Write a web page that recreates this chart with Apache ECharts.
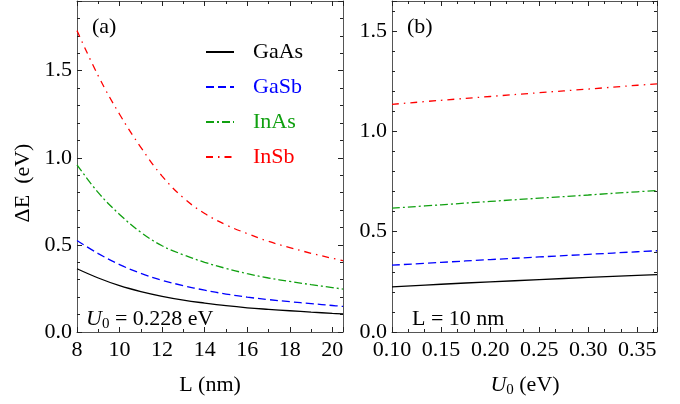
<!DOCTYPE html>
<html>
<head>
<meta charset="utf-8">
<script src="https://cdn.jsdelivr.net/npm/echarts@6.0.0/dist/echarts.min.js"></script>
<style>
  html, body { margin: 0; padding: 0; background: #fff; }
  #chart { width: 680px; height: 404px; }
</style>
</head>
<body>
<div id="chart"></div>
<script>
// panel (a): energy vs well width, U0 = 0.228 eV
var lenNm = [8, 9, 10, 11, 12, 13, 14, 15, 16, 17, 18, 19, 20, 20.5]
var gaasL = [0.363, 0.31, 0.266, 0.232, 0.205, 0.183, 0.166, 0.151, 0.139, 0.13, 0.122, 0.114, 0.107, 0.104]
var gasbL = [0.525, 0.45, 0.387, 0.337, 0.297, 0.266, 0.24, 0.218, 0.2, 0.186, 0.174, 0.163, 0.152, 0.147]
var inasL = [0.96, 0.80, 0.675, 0.572, 0.495, 0.443, 0.40, 0.365, 0.335, 0.31, 0.29, 0.272, 0.255, 0.246]
var insbL = [1.73, 1.47, 1.25, 1.06, 0.895, 0.77, 0.68, 0.615, 0.565, 0.52, 0.485, 0.452, 0.423, 0.41]

// panel (b): energy vs barrier height, L = 10 nm
var u0Ev = [0.10, 0.15, 0.20, 0.25, 0.30, 0.35, 0.37]
var gaasU = [0.225, 0.238, 0.250, 0.261, 0.272, 0.282, 0.286]
var gasbU = [0.333, 0.347, 0.361, 0.374, 0.387, 0.400, 0.405]
var inasU = [0.617, 0.634, 0.651, 0.667, 0.683, 0.699, 0.705]
var insbU = [1.135, 1.155, 1.174, 1.193, 1.211, 1.230, 1.237]

var names = ['GaAs', 'GaSb', 'InAs', 'InSb']
var colors = ['#000000', '#0000ff', '#10a010', '#ff0000']
var dashes = ['solid', [8, 4], [8, 3, 2, 3], [7, 5, 1.5, 5]]

var FONT = 'Liberation Serif'

function pairs (xs, ys) {
  return xs.map(function (x, i) { return [x, ys[i]] })
}

function xAxisOf (grid, pos, min, max, interval, minorSplit, label) {
  return {
    type: 'value',
    gridIndex: grid,
    position: pos,
    min: min,
    max: max,
    interval: interval,
    axisLine: { show: true, onZero: false, lineStyle: { color: '#555', width: 1 } },
    axisTick: { show: true, inside: true, length: 5, lineStyle: { color: '#222' } },
    minorTick: { show: true, splitNumber: minorSplit, length: 3, lineStyle: { color: '#222' } },
    splitLine: { show: false },
    axisLabel: {
      show: label,
      showMaxLabel: false,
      margin: 7,
      color: '#000',
      fontFamily: FONT,
      fontSize: 22,
      formatter: function (v) {
        return interval < 1 ? v.toFixed(2) : String(v)
      }
    }
  }
}

function yAxisOf (grid, pos, max, label) {
  return {
    type: 'value',
    gridIndex: grid,
    position: pos,
    min: 0,
    max: max,
    interval: 0.5,
    axisLine: { show: true, onZero: false, lineStyle: { color: '#555', width: 1 } },
    axisTick: { show: true, inside: true, length: 5, lineStyle: { color: '#222' } },
    minorTick: { show: true, splitNumber: 5, length: 3, lineStyle: { color: '#222' } },
    splitLine: { show: false },
    axisLabel: {
      show: label,
      showMaxLabel: false,
      margin: 5,
      color: '#000',
      fontFamily: FONT,
      fontSize: 22,
      formatter: function (v) { return v.toFixed(1) }
    }
  }
}

var panelA = [gaasL, gasbL, inasL, insbL]
var panelB = [gaasU, gasbU, inasU, insbU]
var series = []
names.forEach(function (n, i) {
  var ls = { color: colors[i], width: 1.3, type: dashes[i] }
  series.push({
    name: n, type: 'line', xAxisIndex: 0, yAxisIndex: 0,
    symbol: 'circle', showSymbol: false,
    smooth: 0.4, lineStyle: ls, itemStyle: { color: colors[i] },
    data: pairs(lenNm, panelA[i])
  })
  series.push({
    name: n, type: 'line', xAxisIndex: 2, yAxisIndex: 2,
    symbol: 'circle', showSymbol: false,
    smooth: 0.4, lineStyle: ls, itemStyle: { color: colors[i] },
    data: pairs(u0Ev, panelB[i])
  })
})

var chart = echarts.init(document.getElementById('chart'), null, { renderer: 'canvas' })
chart.setOption({
  animation: false,
  backgroundColor: '#fff',
  grid: [
    { left: 77, top: 1, width: 266, height: 331, outerBoundsMode: 'none', containLabel: false },
    { left: 392, top: 1, width: 265, height: 331, outerBoundsMode: 'none', containLabel: false }
  ],
  xAxis: [
    xAxisOf(0, 'bottom', 8, 20.5, 2, 2, true),
    xAxisOf(0, 'top', 8, 20.5, 2, 2, false),
    xAxisOf(1, 'bottom', 0.1, 0.37, 0.05, 3, true),
    xAxisOf(1, 'top', 0.1, 0.37, 0.05, 3, false)
  ],
  yAxis: [
    yAxisOf(0, 'left', 1.9, true),
    yAxisOf(0, 'right', 1.9, false),
    yAxisOf(1, 'left', 1.65, true),
    yAxisOf(1, 'right', 1.65, false)
  ],
  legend: {
    left: 205,
    top: 41,
    padding: 0,
    orient: 'vertical',
    itemWidth: 28,
    itemHeight: 20,
    itemGap: 13,
    selectedMode: false,
    itemStyle: { opacity: 0 },
    textStyle: { fontFamily: FONT, fontSize: 22, lineHeight: 22, padding: [0, 0, 0, 14] },
    data: names.map(function (n, i) {
      return { name: n, textStyle: { color: colors[i] } }
    })
  },
  graphic: [
    { type: 'text', left: 92, top: 16, style: { text: '(a)', font: '22px "Liberation Serif"', fill: '#000' } },
    { type: 'text', left: 407, top: 16, style: { text: '(b)', font: '22px "Liberation Serif"', fill: '#000' } },
    {
      type: 'text', x: 23, y: 183, rotation: Math.PI / 2,
      style: { text: 'ΔE  (eV)', font: '22px "Liberation Serif"', fill: '#000', align: 'center', verticalAlign: 'middle' }
    },
    {
      type: 'text', x: 210, y: 385,
      style: { text: 'L (nm)', font: '22px "Liberation Serif"', fill: '#000', align: 'center', verticalAlign: 'middle' }
    },
    {
      type: 'text', x: 525, y: 385,
      style: {
        text: '{u|U}{s|0} (eV)',
        align: 'center', verticalAlign: 'middle',
        fontFamily: FONT, fontSize: 22, fill: '#000', lineHeight: 26,
        rich: {
          u: { fontFamily: FONT, fontSize: 22, fontStyle: 'italic', fill: '#000', lineHeight: 26 },
          s: { fontFamily: FONT, fontSize: 15, fill: '#000', verticalAlign: 'bottom', lineHeight: 20 }
        }
      }
    },
    {
      type: 'text', x: 86, y: 319,
      style: {
        text: '{u|U}{s|0} = 0.228 eV',
        verticalAlign: 'middle',
        fontFamily: FONT, fontSize: 22, fill: '#000', lineHeight: 26,
        rich: {
          u: { fontFamily: FONT, fontSize: 22, fontStyle: 'italic', fill: '#000', lineHeight: 26 },
          s: { fontFamily: FONT, fontSize: 15, fill: '#000', verticalAlign: 'bottom', lineHeight: 20 }
        }
      }
    },
    {
      type: 'text', x: 412, y: 319,
      style: { text: 'L = 10 nm', font: '22px "Liberation Serif"', fill: '#000', verticalAlign: 'middle' }
    }
  ],
  series: series
})
</script>
</body>
</html>
